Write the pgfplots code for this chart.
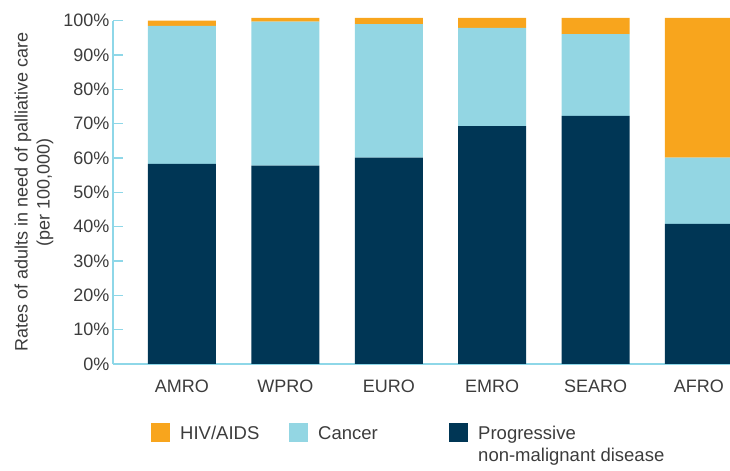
\documentclass[border=0pt]{standalone}
\usepackage{fontspec}
\setmainfont{Liberation Sans}
\usepackage{pgfplots}
\usepackage{pgfplotstable}
\pgfplotsset{compat=1.18}

\definecolor{hiv}{HTML}{F8A51D}
\definecolor{cancer}{HTML}{93D6E3}
\definecolor{pnmd}{HTML}{003655}
\definecolor{axisblue}{HTML}{8ED7E8}
\definecolor{txt}{HTML}{3C3C3C}

% Share of adults in need of palliative care, by WHO region (%)
\pgfplotstableread{
x region dark cancer hiv
0 AMRO  58.3 40.2 1.5
1 WPRO  57.8 41.9 1.1
2 EURO  60.1 38.9 1.8
3 EMRO  69.3 28.6 2.9
4 SEARO 72.3 23.8 4.7
5 AFRO  40.8 19.3 40.7
}\shares

\newcommand{\chartfont}{\fontsize{18bp}{22bp}\selectfont}
\newcommand{\legendfont}{\fontsize{18.5bp}{22bp}\selectfont}

\begin{document}
\begin{tikzpicture}
\useasboundingbox (0,0) rectangle (730bp,471bp);
\begin{axis}[
  at={(113bp,107bp)}, anchor=south west,
  scale only axis, width=617bp, height=343.3bp,
  xmin=-0.667, xmax=5.3, ymin=0, ymax=100,
  clip=false,
  ybar stacked, bar width=68bp,
  axis x line=bottom, axis y line=left,
  axis line style={axisblue, line width=1.6bp, -},
  xtick={0,...,5},
  xticklabels from table={\shares}{region},
  ytick={0,10,...,100},
  yticklabel={\pgfmathprintnumber{\tick}\%},
  /pgf/number format/assume math mode=true,
  tick align=inside,
  major tick length=10bp,
  ytick style={axisblue, line width=1.6bp},
  xtick style={draw=none},
  tick label style={text=txt, font=\chartfont},
  xticklabel style={anchor=base, yshift=-29bp},
  every axis y label/.style={at={(axis description cs:-0.1282,0.5)},
    rotate=90, anchor=center, align=center, text=txt, font=\chartfont},
  ylabel={Rates of adults in need of palliative care\\(per 100,000)},
  legend image code/.code={\fill[#1] (0bp,-9.5bp) rectangle (19bp,9.5bp); \path (29.5bp,0bp);},
  reverse legend,
  legend cell align=left,
  legend style={at={(axis description cs:0.0608,-0.1727)}, anchor=north west,
    draw=none, fill=none, legend columns=3, inner sep=0pt,
    nodes={inner sep=0pt, text depth=0pt, text=txt},
    /tikz/every even column/.append style={column sep=0pt},
    /tikz/every odd column/.append style={column sep=0pt},
    font=\legendfont},
]
\addplot[fill=pnmd, draw=none] table[x=x, y=dark] {\shares};
\addlegendentry{\raisebox{0pt}[\height][0pt]{\parbox[t]{220bp}{Progressive\\non-malignant disease}}}
\addplot[fill=cancer, draw=none] table[x=x, y=cancer] {\shares};
\addlegendentry{\makebox[130.5bp][l]{Cancer}}
\addplot[fill=hiv, draw=none] table[x=x, y=hiv] {\shares};
\addlegendentry{\makebox[108.5bp][l]{HIV/AIDS}}
\end{axis}
\end{tikzpicture}
\end{document}
